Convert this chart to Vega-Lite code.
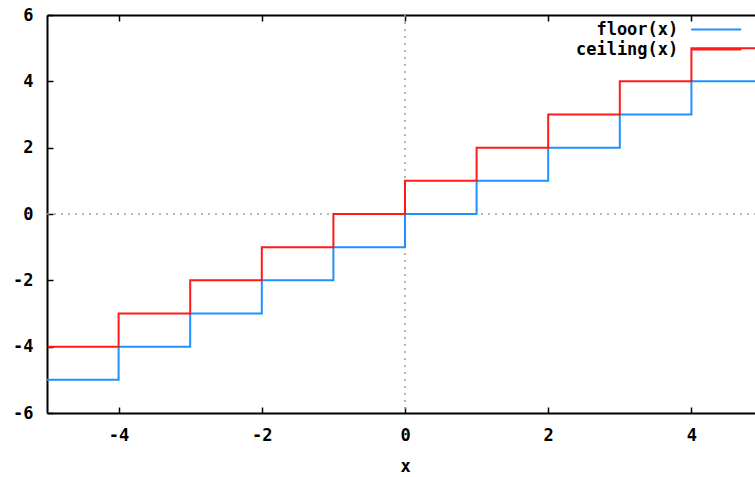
{
  "$schema": "https://vega.github.io/schema/vega-lite/v6.json",
  "width": 716,
  "height": 398,
  "autosize": {"type": "none"},
  "padding": {"left": 47, "top": 15, "right": 0, "bottom": 64},
  "config": {
    "view": {"stroke": null},
    "axis": {
      "labelFont": "DejaVu Sans Mono",
      "labelFontWeight": "bold",
      "labelFontSize": 17,
      "labelColor": "black",
      "titleFont": "DejaVu Sans Mono",
      "titleFontWeight": "bold",
      "titleFontSize": 17,
      "titleColor": "black",
      "domainColor": "black",
      "domainWidth": 2,
      "tickColor": "black",
      "tickWidth": 1.5,
      "tickSize": -6,
      "grid": false
    },
    "legend": {
      "orient": "none",
      "legendX": 643,
      "legendY": 5,
      "padding": 0,
      "symbolType": "M-1,0H5",
      "symbolSize": 277.8,
      "symbolStrokeWidth": 2,
      "labelFont": "DejaVu Sans Mono",
      "labelFontWeight": "bold",
      "labelFontSize": 17,
      "labelColor": "black",
      "labelAlign": "right",
      "labelOffset": -30.7,
      "rowPadding": 2
    }
  },
  "datasets": {
    "curves": [
      {"x": -5, "y": -5, "fn": "floor(x)"},
      {"x": -4, "y": -4, "fn": "floor(x)"},
      {"x": -3, "y": -3, "fn": "floor(x)"},
      {"x": -2, "y": -2, "fn": "floor(x)"},
      {"x": -1, "y": -1, "fn": "floor(x)"},
      {"x": 0, "y": 0, "fn": "floor(x)"},
      {"x": 1, "y": 1, "fn": "floor(x)"},
      {"x": 2, "y": 2, "fn": "floor(x)"},
      {"x": 3, "y": 3, "fn": "floor(x)"},
      {"x": 4, "y": 4, "fn": "floor(x)"},
      {"x": 5, "y": 5, "fn": "floor(x)"},
      {"x": -4.99, "y": -4, "fn": "ceiling(x)"},
      {"x": -4, "y": -4, "fn": "ceiling(x)"},
      {"x": -3, "y": -3, "fn": "ceiling(x)"},
      {"x": -2, "y": -2, "fn": "ceiling(x)"},
      {"x": -1, "y": -1, "fn": "ceiling(x)"},
      {"x": 0, "y": 0, "fn": "ceiling(x)"},
      {"x": 1, "y": 1, "fn": "ceiling(x)"},
      {"x": 2, "y": 2, "fn": "ceiling(x)"},
      {"x": 3, "y": 3, "fn": "ceiling(x)"},
      {"x": 4, "y": 4, "fn": "ceiling(x)"},
      {"x": 5, "y": 5, "fn": "ceiling(x)"}
    ]
  },
  "layer": [
    {
      "data": {"values": [{"zero": 0}]},
      "mark": {"type": "rule", "color": "#a0a0a0", "strokeDash": [2, 5], "strokeWidth": 1.5},
      "encoding": {
        "x": {"field": "zero", "type": "quantitative", "scale": {"domain": [-5, 5]}, "axis": null}
      }
    },
    {
      "data": {"values": [{"zero": 0}]},
      "mark": {"type": "rule", "color": "#a0a0a0", "strokeDash": [2, 5], "strokeWidth": 1.5},
      "encoding": {
        "y": {"field": "zero", "type": "quantitative", "scale": {"domain": [-6, 6]}, "axis": null}
      }
    },
    {
      "data": {"name": "curves"},
      "transform": [{"filter": "datum.fn === 'floor(x)'"}],
      "mark": {"type": "line", "interpolate": "step-after", "clip": true, "strokeWidth": 2},
      "encoding": {
        "x": {
          "field": "x", "type": "quantitative",
          "scale": {"domain": [-5, 5], "nice": false, "zero": false},
          "axis": {"orient": "bottom", "title": "x", "values": [-4, -2, 0, 2, 4], "labelExpr": "'' + datum.value", "labelPadding": 20, "titleY": 53, "titleBaseline": "middle"}
        },
        "y": {
          "field": "y", "type": "quantitative",
          "scale": {"domain": [-6, 6], "nice": false, "zero": false},
          "axis": {"orient": "left", "title": null, "values": [-6, -4, -2, 0, 2, 4, 6], "labelExpr": "'' + datum.value", "labelPadding": 20}
        },
        "color": {
          "field": "fn", "type": "nominal",
          "scale": {"domain": ["floor(x)", "ceiling(x)"], "range": ["#1e90ff", "#ff1a1a"]},
          "legend": {"title": null}
        }
      }
    },
    {
      "data": {"name": "curves"},
      "transform": [{"filter": "datum.fn === 'ceiling(x)'"}],
      "mark": {"type": "line", "interpolate": "step-before", "clip": true, "strokeWidth": 2},
      "encoding": {
        "x": {
          "field": "x", "type": "quantitative",
          "axis": {"orient": "top", "title": null, "labels": false, "values": [-4, -2, 0, 2, 4]}
        },
        "y": {"field": "y", "type": "quantitative", "axis": null},
        "color": {"field": "fn", "type": "nominal"}
      }
    }
  ],
  "resolve": {"axis": {"x": "independent", "y": "independent"}}
}
